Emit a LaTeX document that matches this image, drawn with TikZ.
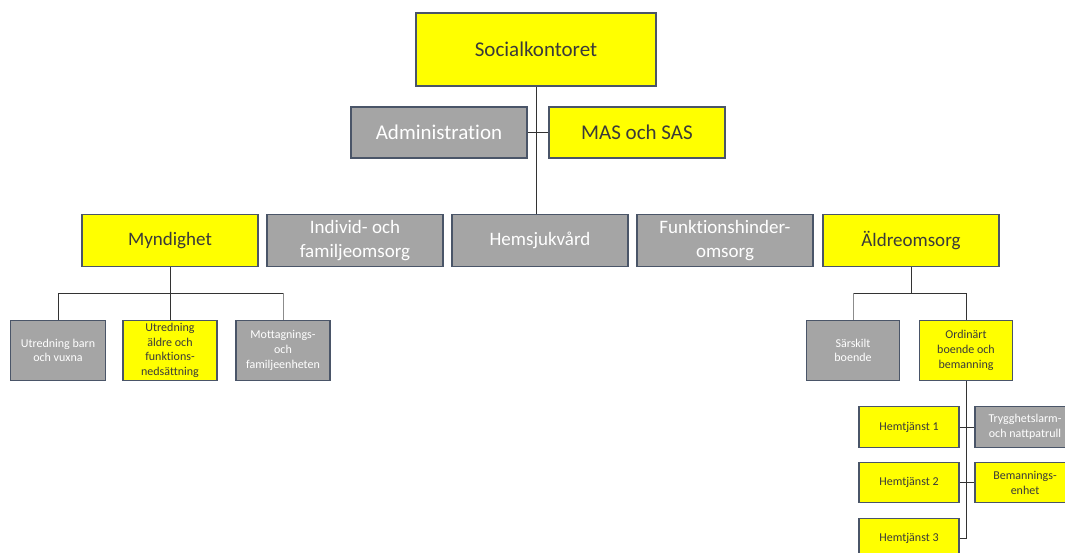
\documentclass[tikz,border=0pt]{standalone}
\usepackage{fontspec}
\setmainfont[RawFeature={-liga;-clig;-dlig}]{Carlito}
\definecolor{boxyellow}{HTML}{FFFF00}
\definecolor{boxgray}{HTML}{A5A5A5}
\definecolor{boxborder}{HTML}{4A5568}
\definecolor{ytext}{HTML}{3A3A3A}
\definecolor{linedark}{HTML}{333333}
\definecolor{linegray}{HTML}{8C8C8C}
\tikzset{
  base/.style={draw=boxborder, line width=1.4pt, inner sep=0pt, align=center, anchor=center},
  ybox/.style={base, fill=boxyellow, text=ytext},
  gbox/.style={base, fill=boxgray, text=white},
  big/.style={font=\fontsize{21}{25}\selectfont},
  mid/.style={font=\fontsize{19}{24}\selectfont},
  small/.style={font=\fontsize{12}{14.7}\selectfont},
  conn/.style={draw=linedark, line width=1pt},
  conng/.style={draw=linegray, line width=1pt},
}
\begin{document}
\begin{tikzpicture}[x=1pt,y=-1pt]
\clip (0,0) rectangle (1065,553);
\fill[white] (0,0) rectangle (1065,553);
% top
\node[ybox,big,minimum width=240,minimum height=73] (soc) at (536,49.5) {Socialkontoret};
\node[gbox,big,minimum width=176,minimum height=51] (admin) at (439,132.5) {Administration};
\node[ybox,big,minimum width=176,minimum height=51] (mas) at (637,132.5) {MAS och SAS};
% level 2
\node[ybox,mid,minimum width=176,minimum height=52] (myn) at (170,240.5) {Myndighet};
\node[gbox,mid,minimum width=176,minimum height=52] (ind) at (355,240.5) {Individ- och\\familjeomsorg};
\node[gbox,mid,minimum width=176,minimum height=52] (hem) at (540,240.5) {Hemsjukvård};
\node[gbox,mid,minimum width=176,minimum height=52] (fun) at (725,240.5) {Funktionshinder-\\omsorg};
\node[ybox,mid,minimum width=176,minimum height=52] (ald) at (911,240.5) {Äldreomsorg};
% Myndighet children
\node[gbox,small,minimum width=95,minimum height=60] (ubv) at (58,350.5) {Utredning barn\\och vuxna};
\node[ybox,small,minimum width=94,minimum height=60] (uaf) at (170,350.5) {Utredning\\äldre och\\funktions-\\nedsättning};
\node[gbox,small,minimum width=94,minimum height=60] (mot) at (283,350.5) {Mottagnings-\\och\\familjeenheten};
% Äldreomsorg children
\node[gbox,small,minimum width=93,minimum height=60] (sar) at (853,350.5) {Särskilt\\boende};
\node[ybox,small,minimum width=93,minimum height=60] (ord) at (966,350.5) {Ordinärt\\boende och\\bemanning};
\node[ybox,small,minimum width=100,minimum height=41] (h1) at (909,427) {Hemtjänst 1};
\node[ybox,small,minimum width=100,minimum height=40] (h2) at (909,482.7) {Hemtjänst 2};
\node[ybox,small,minimum width=100,minimum height=41] (h3) at (909,538.7) {Hemtjänst 3};
\node[gbox,small,minimum width=100,minimum height=41] (tryg) at (1025,427) {Trygghetslarm-\\och nattpatrull};
\node[ybox,small,minimum width=100,minimum height=40] (bem) at (1025,482.7) {Bemannings-\\enhet};
% bus coordinates
\coordinate (mainend) at (536,214.5);
\coordinate (mbus) at (170,293);
\coordinate (abus) at (911,293);
\coordinate (obot) at (966,538.7);
% connectors
\draw[conn] (soc.south) -- (mainend);
\draw[conn] (admin.east) -- (mas.west);
\draw[conn] (myn.south) -- (mbus);
\draw[conn] (mbus) -- (uaf.north);
\draw[conn] (mbus) -| (ubv.north);
\draw[conn] (mbus) -- (mbus -| mot.north);
\draw[conng] (mbus -| mot.north) -- (mot.north);
\draw[conn] (ald.south) -- (abus);
\draw[conn] (abus) -- (abus -| sar.north);
\draw[conng] (abus -| sar.north) -- (sar.north);
\draw[conn] (abus) -| (ord.north);
\draw[conn] (ord.south) -- (obot);
\draw[conn] (h1.east) -- (tryg.west);
\draw[conn] (h2.east) -- (bem.west);
\draw[conn] (h3.east) -- (obot);
\end{tikzpicture}
\end{document}
